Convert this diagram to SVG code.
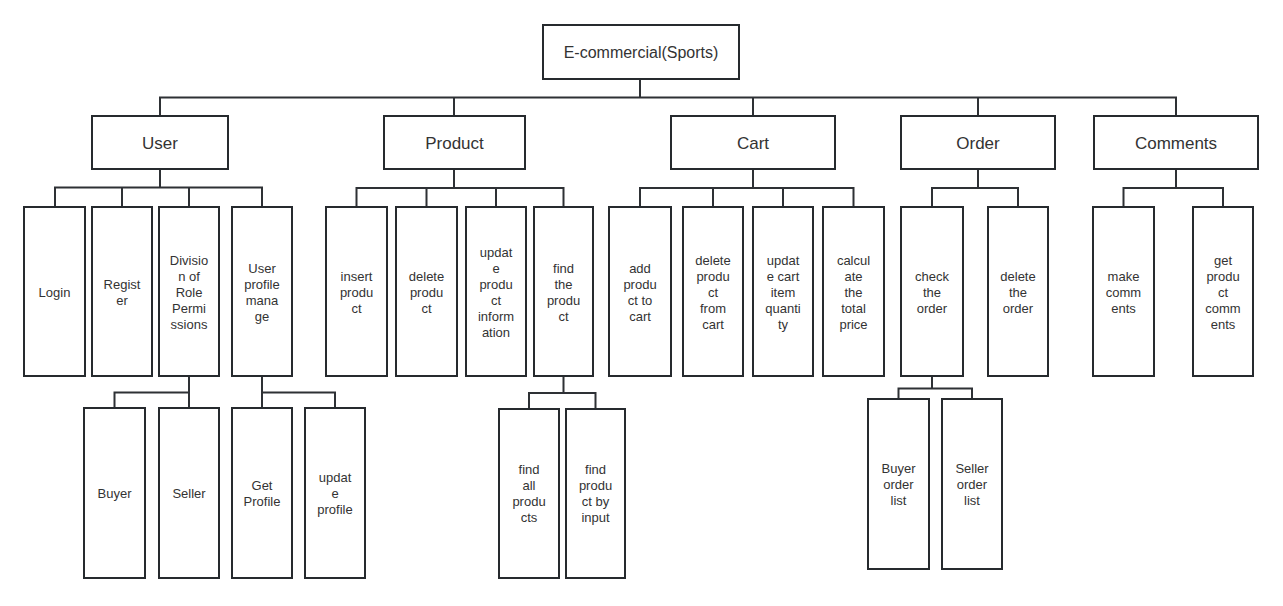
<svg xmlns="http://www.w3.org/2000/svg" width="1283" height="606" viewBox="0 0 1283 606">
<style>
.box{fill:#fff;stroke:#262a2e;stroke-width:2}
.ln{fill:none;stroke:#2e3135;stroke-width:2}
text{font-family:"Liberation Sans",Arial,sans-serif;fill:#333;text-anchor:middle}
.root{font-size:16px}
.l2{font-size:17px}
.lf{font-size:13px}
</style>
<rect width="1283" height="606" fill="#fff"/>
<g id="connectors">
<path class="ln" d="M640 79V97.5M160 116V97.5H1176V116M454 97.5V116M753 97.5V116M978 97.5V116"/>
<path class="ln" d="M160 169V187.5M55 207V187.5H262V207M122 187.5V207M189 187.5V207"/>
<path class="ln" d="M454 169V188M356.5 207V188H563.5V207M426.5 188V207M496 188V207"/>
<path class="ln" d="M753 169V188M640 207V188H853.5V207M713 188V207M783 188V207"/>
<path class="ln" d="M978 169V188M932 207V188H1018V207"/>
<path class="ln" d="M1176 169V188M1123.5 207V188H1223V207"/>
<path class="ln" d="M189 376V392.5M114.5 408V392.5H189V408"/>
<path class="ln" d="M262 376V408M262 392.5H335V408"/>
<path class="ln" d="M563.5 376V393M529 409V393H595.5V409"/>
<path class="ln" d="M932 376V388.5M898.5 399V388.5H972V399"/>
</g>
<g id="root"><rect class="box" x="543" y="25" width="196" height="54"/><text class="root" x="641" y="57.5">E-commercial(Sports)</text></g>
<g id="user"><rect class="box" x="92" y="116" width="136" height="53"/><text class="l2" x="160" y="149">User</text></g>
<g id="product"><rect class="box" x="384" y="116" width="141" height="53"/><text class="l2" x="454.5" y="149">Product</text></g>
<g id="cart"><rect class="box" x="671" y="116" width="164" height="53"/><text class="l2" x="753" y="149">Cart</text></g>
<g id="order"><rect class="box" x="901" y="116" width="154" height="53"/><text class="l2" x="978" y="149">Order</text></g>
<g id="comments"><rect class="box" x="1094" y="116" width="164" height="53"/><text class="l2" x="1176" y="149">Comments</text></g>

<g id="login"><rect class="box" x="24" y="207" width="61" height="169"/><text class="lf" x="54.5" y="297">Login</text></g>
<g id="register"><rect class="box" x="92" y="207" width="60" height="169"/><text class="lf"><tspan x="122" y="289">Regist</tspan><tspan x="122" y="305">er</tspan></text></g>
<g id="division"><rect class="box" x="159" y="207" width="60" height="169"/><text class="lf"><tspan x="189" y="265">Divisio</tspan><tspan x="189" y="281">n of</tspan><tspan x="189" y="297">Role</tspan><tspan x="189" y="313">Permi</tspan><tspan x="189" y="329">ssions</tspan></text></g>
<g id="profile-manage"><rect class="box" x="232" y="207" width="60" height="169"/><text class="lf"><tspan x="262" y="273">User</tspan><tspan x="262" y="289">profile</tspan><tspan x="262" y="305">mana</tspan><tspan x="262" y="321">ge</tspan></text></g>

<g id="insert"><rect class="box" x="326" y="207" width="61" height="169"/><text class="lf"><tspan x="356.5" y="281">insert</tspan><tspan x="356.5" y="297">produ</tspan><tspan x="356.5" y="313">ct</tspan></text></g>
<g id="delete-product"><rect class="box" x="396" y="207" width="61" height="169"/><text class="lf"><tspan x="426.5" y="281">delete</tspan><tspan x="426.5" y="297">produ</tspan><tspan x="426.5" y="313">ct</tspan></text></g>
<g id="update-product"><rect class="box" x="466" y="207" width="60" height="169"/><text class="lf"><tspan x="496" y="257">updat</tspan><tspan x="496" y="273">e</tspan><tspan x="496" y="289">produ</tspan><tspan x="496" y="305">ct</tspan><tspan x="496" y="321">inform</tspan><tspan x="496" y="337">ation</tspan></text></g>
<g id="find-product"><rect class="box" x="534" y="207" width="59" height="169"/><text class="lf"><tspan x="563.5" y="273">find</tspan><tspan x="563.5" y="289">the</tspan><tspan x="563.5" y="305">produ</tspan><tspan x="563.5" y="321">ct</tspan></text></g>

<g id="add-cart"><rect class="box" x="609" y="207" width="62" height="169"/><text class="lf"><tspan x="640" y="273">add</tspan><tspan x="640" y="289">produ</tspan><tspan x="640" y="305">ct to</tspan><tspan x="640" y="321">cart</tspan></text></g>
<g id="delete-cart"><rect class="box" x="683" y="207" width="60" height="169"/><text class="lf"><tspan x="713" y="265">delete</tspan><tspan x="713" y="281">produ</tspan><tspan x="713" y="297">ct</tspan><tspan x="713" y="313">from</tspan><tspan x="713" y="329">cart</tspan></text></g>
<g id="update-cart"><rect class="box" x="753" y="207" width="60" height="169"/><text class="lf"><tspan x="783" y="265">updat</tspan><tspan x="783" y="281">e cart</tspan><tspan x="783" y="297">item</tspan><tspan x="783" y="313">quanti</tspan><tspan x="783" y="329">ty</tspan></text></g>
<g id="calculate"><rect class="box" x="823" y="207" width="61" height="169"/><text class="lf"><tspan x="853.5" y="265">calcul</tspan><tspan x="853.5" y="281">ate</tspan><tspan x="853.5" y="297">the</tspan><tspan x="853.5" y="313">total</tspan><tspan x="853.5" y="329">price</tspan></text></g>

<g id="check-order"><rect class="box" x="901" y="207" width="62" height="169"/><text class="lf"><tspan x="932" y="281">check</tspan><tspan x="932" y="297">the</tspan><tspan x="932" y="313">order</tspan></text></g>
<g id="delete-order"><rect class="box" x="988" y="207" width="60" height="169"/><text class="lf"><tspan x="1018" y="281">delete</tspan><tspan x="1018" y="297">the</tspan><tspan x="1018" y="313">order</tspan></text></g>
<g id="make-comments"><rect class="box" x="1093" y="207" width="61" height="169"/><text class="lf"><tspan x="1123.5" y="281">make</tspan><tspan x="1123.5" y="297">comm</tspan><tspan x="1123.5" y="313">ents</tspan></text></g>
<g id="get-comments"><rect class="box" x="1193" y="207" width="60" height="169"/><text class="lf"><tspan x="1223" y="265">get</tspan><tspan x="1223" y="281">produ</tspan><tspan x="1223" y="297">ct</tspan><tspan x="1223" y="313">comm</tspan><tspan x="1223" y="329">ents</tspan></text></g>

<g id="buyer"><rect class="box" x="84" y="408" width="61" height="170"/><text class="lf" x="114.5" y="498">Buyer</text></g>
<g id="seller"><rect class="box" x="159" y="408" width="60" height="170"/><text class="lf" x="189" y="498">Seller</text></g>
<g id="get-profile"><rect class="box" x="232" y="408" width="60" height="170"/><text class="lf"><tspan x="262" y="490">Get</tspan><tspan x="262" y="506">Profile</tspan></text></g>
<g id="update-profile"><rect class="box" x="305" y="408" width="60" height="170"/><text class="lf"><tspan x="335" y="482">updat</tspan><tspan x="335" y="498">e</tspan><tspan x="335" y="514">profile</tspan></text></g>

<g id="find-all"><rect class="box" x="499" y="409" width="60" height="169"/><text class="lf"><tspan x="529" y="474">find</tspan><tspan x="529" y="490">all</tspan><tspan x="529" y="506">produ</tspan><tspan x="529" y="522">cts</tspan></text></g>
<g id="find-input"><rect class="box" x="566" y="409" width="59" height="169"/><text class="lf"><tspan x="595.5" y="474">find</tspan><tspan x="595.5" y="490">produ</tspan><tspan x="595.5" y="506">ct by</tspan><tspan x="595.5" y="522">input</tspan></text></g>

<g id="buyer-orders"><rect class="box" x="868" y="399" width="61" height="170"/><text class="lf"><tspan x="898.5" y="473">Buyer</tspan><tspan x="898.5" y="489">order</tspan><tspan x="898.5" y="505">list</tspan></text></g>
<g id="seller-orders"><rect class="box" x="942" y="399" width="60" height="170"/><text class="lf"><tspan x="972" y="473">Seller</tspan><tspan x="972" y="489">order</tspan><tspan x="972" y="505">list</tspan></text></g>
</svg>
